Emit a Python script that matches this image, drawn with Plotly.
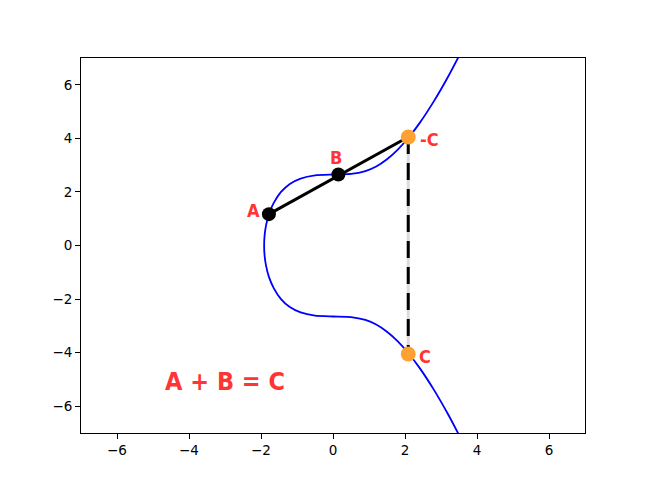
import plotly.graph_objects as go

# curve points (top-right -> left vertex -> bottom-right)
upper_x = [3.6, 3.2, 2.8, 2.4, 2.1, 1.8, 1.5, 1.2, 0.9, 0.5, 0.0, -0.5, -0.9, -1.2, -1.45, -1.65, -1.78, -1.86, -1.90, -1.913]
upper_y = [7.33, 6.31, 5.38, 4.56, 4.03, 3.58, 3.22, 2.95, 2.78, 2.67, 2.65, 2.62, 2.50, 2.30, 1.99, 1.58, 1.17, 0.75, 0.38, 0.0]
lower_x = [-1.90, -1.86, -1.78, -1.65, -1.45, -1.2, -0.9, -0.5, 0.0, 0.5, 0.9, 1.2, 1.5, 1.8, 2.1, 2.4, 2.8, 3.2, 3.6]
lower_y = [-0.38, -0.75, -1.17, -1.58, -1.99, -2.30, -2.50, -2.62, -2.65, -2.67, -2.78, -2.95, -3.22, -3.58, -4.03, -4.56, -5.38, -6.31, -7.33]

# points
a_pt = (-1.78, 1.17)
b_pt = (0.15, 2.65)
negc_pt = (2.09, 4.05)
c_pt = (2.09, -4.05)

label_font = "DejaVu Sans Condensed, Liberation Sans Narrow, sans-serif"
red = "#ff3535"
orange = "#ffa033"

fig = go.Figure()

fig.add_trace(go.Scatter(
    x=upper_x + lower_x, y=upper_y + lower_y, mode="lines",
    line=dict(color="blue", width=1.8, shape="spline", smoothing=0.6),
    hoverinfo="skip"))

# reflection line: grey under black dashes
fig.add_trace(go.Scatter(
    x=[negc_pt[0], c_pt[0]], y=[negc_pt[1], c_pt[1]], mode="lines",
    line=dict(color="#dcdcdc", width=3)))
fig.add_trace(go.Scatter(
    x=[negc_pt[0], c_pt[0]], y=[negc_pt[1], c_pt[1]], mode="lines",
    line=dict(color="black", width=3, dash="17px,9px")))

# chord through A, B, -C
fig.add_trace(go.Scatter(
    x=[a_pt[0], negc_pt[0]], y=[a_pt[1], negc_pt[1]], mode="lines",
    line=dict(color="black", width=3)))

fig.add_trace(go.Scatter(
    x=[a_pt[0], b_pt[0]], y=[a_pt[1], b_pt[1]], mode="markers",
    marker=dict(color="black", size=14)))
fig.add_trace(go.Scatter(
    x=[negc_pt[0], c_pt[0]], y=[negc_pt[1], c_pt[1]], mode="markers",
    marker=dict(color=orange, size=15)))

labels = [("A", -2.22, 1.29), ("B", 0.08, 3.3), ("-C", 2.69, 3.97), ("C", 2.56, -4.16)]
for txt, lx, ly in labels:
    fig.add_annotation(x=lx, y=ly, text="<b>%s</b>" % txt, showarrow=False,
                       font=dict(family=label_font, size=18, color=red))
fig.add_annotation(x=-3.0, y=-5.06, text="<b>A + B = C</b>", showarrow=False,
                   font=dict(family=label_font, size=25, color=red))

axis = dict(range=[-7, 7], tickvals=[-6, -4, -2, 0, 2, 4, 6],
            ticktext=["\u22126", "\u22124", "\u22122", "0", "2", "4", "6"],
            showgrid=False, zeroline=False, showline=True, mirror=True,
            linecolor="black", linewidth=1, ticks="outside", ticklen=5,
            tickcolor="black", tickfont=dict(family="DejaVu Sans", size=13.5, color="black"))

# page body adds an 8px margin, so the figure is trimmed by that much
fig.update_layout(
    width=642, height=479, showlegend=False,
    plot_bgcolor="white", paper_bgcolor="white",
    margin=dict(l=73, r=65, t=50, b=54),
    xaxis=axis, yaxis=axis)

fig.write_html("out.html")
